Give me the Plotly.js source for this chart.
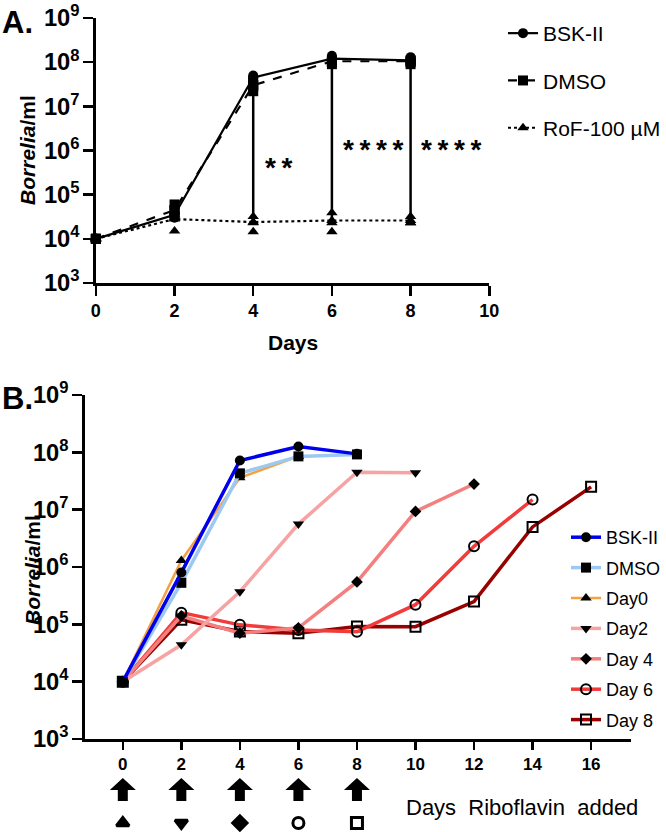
<!DOCTYPE html>
<html><head><meta charset="utf-8">
<script src="https://cdn.plot.ly/plotly-3.0.1.min.js"></script>
<style>html,body{margin:0;padding:0;background:#fff}</style>
</head><body><div id="chart" style="width:666px;height:832px"></div>
<script>
// ---------- Panel A data ----------
const daysA = [0, 2, 4, 6, 8];
const bskA_mean  = [1e4, 3.5e4, 4.5e7, 1.2e8, 1.1e8];
const dmsoA_mean = [1e4, 4.5e4, 3.0e7, 1.05e8, 1.05e8];
const rofA_mean  = [1e4, 2.8e4, 2.4e4, 2.6e4, 2.6e4];
const bskA_rep1  = [1e4, 3.0e4, 5.0e7, 1.4e8, 1.3e8];
const bskA_rep2  = [1e4, 3.5e4, 4.5e7, 1.2e8, 1.1e8];
const bskA_rep3  = [1e4, 4.0e4, 3.8e7, 1.0e8, 1.0e8];
const dmsoA_rep1 = [1e4, 6.0e4, 3.6e7, 1.1e8, 1.1e8];
const dmsoA_rep2 = [1e4, 4.5e4, 2.8e7, 1.0e8, 1.0e8];
const dmsoA_rep3 = [1e4, 3.3e4, 2.2e7, 9.0e7, 9.0e7];
const rofA_rep1  = [1e4, 1.5e4, 1.45e4, 1.45e4, 2.3e4];
const rofA_rep2  = [1e4, 3.0e4, 2.3e4, 2.3e4, 2.3e4];
const rofA_rep3  = [1e4, 3.5e4, 3.2e4, 3.9e4, 3.2e4];
const sigDays = [4, 6, 8];
const sigLabels = ['*\u2009*', '*\u2009*\u2009*\u2009*', '*\u2009*\u2009*\u2009*'];
const namesA = ['BSK-II', 'DMSO', 'RoF-100 µM'];

// ---------- Panel B data ----------
const namesB = ['BSK-II', 'DMSO', 'Day0', 'Day2', 'Day 4', 'Day 6', 'Day 8'];
const bskB_x  = [0, 2, 4, 6, 8];
const bskB_y  = [1e4, 8.0e5, 7.2e7, 1.26e8, 9.4e7];
const dmsoB_x = [0, 2, 4, 6, 8];
const dmsoB_y = [1e4, 5.3e5, 4.3e7, 8.5e7, 9.2e7];
const day0B_x = [0, 2, 4, 6];
const day0B_y = [1e4, 1.3e6, 3.6e7, 8.5e7];
const day2B_x = [0, 2, 4, 6, 8, 10];
const day2B_y = [1e4, 4.4e4, 3.7e5, 5.6e6, 4.5e7, 4.4e7];
const day4B_x = [0, 2, 4, 6, 8, 10, 12];
const day4B_y = [1e4, 1.4e5, 7.0e4, 8.7e4, 5.5e5, 9.3e6, 2.8e7];
const day6B_x = [0, 2, 4, 6, 8, 10, 12, 14];
const day6B_y = [1e4, 1.6e5, 9.8e4, 8.0e4, 7.4e4, 2.2e5, 2.3e6, 1.5e7];
const day8B_x = [0, 2, 4, 6, 8, 10, 12, 14, 16];
const day8B_y = [1e4, 1.2e5, 7.5e4, 7.0e4, 9.2e4, 9.1e4, 2.5e5, 5.0e6, 2.5e7];
const ribDays = [0, 2, 4, 6, 8];
const ribSymbols = ['triangle-up', 'triangle-down', 'diamond', 'circle-open', 'square-open'];
const xTicksB = [0, 2, 4, 6, 8, 10, 12, 14, 16];

// ---------- helpers ----------
const W = 666, H = 832;
const px = v => v / W;
const py = v => 1 - v / H;
const FONT = 'Liberation Sans, Arial, Helvetica, sans-serif';

const traces = [];
const repStyle = [
  {reps: [bskA_rep1, bskA_rep2, bskA_rep3], sym: 'circle'},
  {reps: [dmsoA_rep1, dmsoA_rep2, dmsoA_rep3], sym: 'square'},
  {reps: [rofA_rep1, rofA_rep2, rofA_rep3], sym: 'triangle-up'}
];
const sx = [], sy = [];
sigDays.forEach(d => {
  const i = daysA.indexOf(d);
  sx.push(d, d, null); sy.push(bskA_mean[i], rofA_mean[i], null);
});
traces.push({x: sx, y: sy, mode: 'lines', line: {color: '#000', width: 2.5},
  showlegend: false, hoverinfo: 'skip', xaxis: 'x', yaxis: 'y', cliponaxis: false});

const meansA = [bskA_mean, dmsoA_mean, rofA_mean];
const dashA = ['solid', 'dash', 'dot'];
repStyle.forEach((s, k) => {
  traces.push({x: daysA, y: meansA[k], name: namesA[k], mode: 'lines+markers',
    line: {color: '#000', width: 2.2, dash: dashA[k]},
    marker: {symbol: s.sym, size: 10, color: '#000'},
    xaxis: 'x', yaxis: 'y', legend: 'legend', legendgroup: 'a' + k, cliponaxis: false});
  s.reps.forEach(r => traces.push({x: daysA, y: r, mode: 'markers',
    marker: {symbol: s.sym, size: 10, color: '#000'}, showlegend: false,
    xaxis: 'x', yaxis: 'y', cliponaxis: false}));
});

const seriesB = [
  {x: day8B_x, y: day8B_y, c: '#990000', sym: 'square-open', rank: 7, w: 3.5},
  {x: day6B_x, y: day6B_y, c: '#f23b3b', sym: 'circle-open', rank: 6, w: 3.5},
  {x: day4B_x, y: day4B_y, c: '#f47f7f', sym: 'diamond', rank: 5, w: 3.5},
  {x: day2B_x, y: day2B_y, c: '#f7a3a3', sym: 'triangle-down', rank: 4, w: 3.5},
  {x: day0B_x, y: day0B_y, c: '#f5a142', sym: 'triangle-up', rank: 3, w: 2.5},
  {x: dmsoB_x, y: dmsoB_y, c: '#9cc8f2', sym: 'square', rank: 2, w: 3.5},
  {x: bskB_x, y: bskB_y, c: '#0000ee', sym: 'circle', rank: 1, w: 3.5}
];
seriesB.forEach(s => {
  const open = s.sym.indexOf('open') >= 0;
  traces.push({x: s.x, y: s.y, name: namesB[s.rank - 1], mode: 'lines+markers',
    line: {color: s.c, width: s.w},
    marker: {symbol: s.sym, size: s.sym === 'diamond' ? 9 : 10, color: '#000',
      line: {color: '#000', width: open ? 2 : 0}},
    xaxis: 'x2', yaxis: 'y2', legend: 'legend2', legendrank: s.rank,
    legendgroup: 'b' + s.rank, cliponaxis: false});
});
traces.push({x: ribDays, y: ribDays.map(() => 0.5), mode: 'markers',
  marker: {symbol: ribSymbols, size: 11, color: '#000', line: {color: '#000', width: 3}},
  showlegend: false, xaxis: 'x2', yaxis: 'y3', hoverinfo: 'skip', cliponaxis: false});

const tickFontA = {size: 18, weight: 'bold', color: '#000', family: FONT};
const axLine = {showline: true, linewidth: 2.5, linecolor: '#000', ticks: 'outside',
  tickwidth: 2.5, tickcolor: '#000', showgrid: false, zeroline: false};

const shapes = ribDays.map(d => ({type: 'path', xref: 'x2', yref: 'paper',
  xsizemode: 'pixel', ysizemode: 'pixel', xanchor: d, yanchor: py(790),
  path: 'M-13,0 L0,12 L13,0 L5,0 L5,-11 L-5,-11 L-5,0 Z',
  fillcolor: '#000', line: {width: 0}}));

const annotations = [
  {text: '<b>A.</b>', x: px(0), y: py(22), xanchor: 'left', yanchor: 'middle', font: {size: 31}},
  {text: '<b>B.</b>', x: px(0), y: py(398), xanchor: 'left', yanchor: 'middle', font: {size: 31}},
  {text: '<b><i>Borrelia</i>/ml</b>', x: px(27), y: py(150), textangle: -90, font: {size: 21}},
  {text: '<b><i>Borrelia</i>/ml</b>', x: px(32), y: py(570), textangle: -90, font: {size: 21}},
  {text: '<b>Days</b>', x: px(293), y: py(342), font: {size: 21}},
  {text: 'Days  Riboflavin  added', x: px(405), y: py(807), xanchor: 'left', font: {size: 22}}
].map(a => Object.assign({xref: 'paper', yref: 'paper', showarrow: false,
  xanchor: 'center', yanchor: 'middle'}, a, {font: Object.assign({family: FONT, color: '#000'}, a.font)}));
const sigPos = [[4.66, 5.62], [7.06, 6.02], [9.04, 6.02]];
sigDays.forEach((d, i) => annotations.push({text: '<b>' + sigLabels[i] + '</b>', xref: 'x', yref: 'y',
  x: sigPos[i][0], y: sigPos[i][1], showarrow: false, font: {size: 28, family: FONT, color: '#000'}}));

const layout = {
  width: W, height: H, margin: {l: 0, r: 0, t: 0, b: 0},
  paper_bgcolor: '#fff', plot_bgcolor: 'rgba(0,0,0,0)',
  font: {family: FONT, color: '#000'},
  showlegend: true,
  xaxis: Object.assign({}, axLine, {domain: [px(96), px(490)], range: [0, 10],
    tickvals: [0, 2, 4, 6, 8, 10], ticklen: 10, tickfont: tickFontA, anchor: 'y'}),
  yaxis: Object.assign({}, axLine, {domain: [py(283), py(18)], type: 'log', range: [3, 9],
    dtick: 1, exponentformat: 'power', ticklen: 10, tickfont: {size: 19, weight: 'bold', color: '#000', family: FONT}, anchor: 'x'}),
  xaxis2: Object.assign({}, axLine, {domain: [px(85), px(632)], range: [-1.296, 17.365],
    tickvals: xTicksB, ticklen: 8, tickfont: {size: 17, weight: 'bold', color: '#000', family: FONT}, anchor: 'y2'}),
  yaxis2: Object.assign({}, axLine, {domain: [py(739), py(395)], type: 'log', range: [3, 9],
    dtick: 1, exponentformat: 'power', ticklen: 10, tickfont: {size: 19, weight: 'bold', color: '#000', family: FONT}, anchor: 'x2'}),
  yaxis3: {domain: [0, 2 * py(823)], range: [0, 1], visible: false, anchor: 'x2', fixedrange: true},
  legend: {x: px(504), y: py(13), xanchor: 'left', yanchor: 'top', traceorder: 'grouped',
    tracegroupgap: 17, font: {size: 21, family: FONT, color: '#000'}, bgcolor: 'rgba(0,0,0,0)'},
  legend2: {x: px(566), y: py(519), xanchor: 'left', yanchor: 'top', traceorder: 'grouped',
    tracegroupgap: 4, font: {size: 18, family: FONT, color: '#000'}, bgcolor: 'rgba(0,0,0,0)'},
  shapes: shapes,
  annotations: annotations
};

Plotly.newPlot('chart', traces, layout, {displayModeBar: false, staticPlot: true});
</script></body></html>
